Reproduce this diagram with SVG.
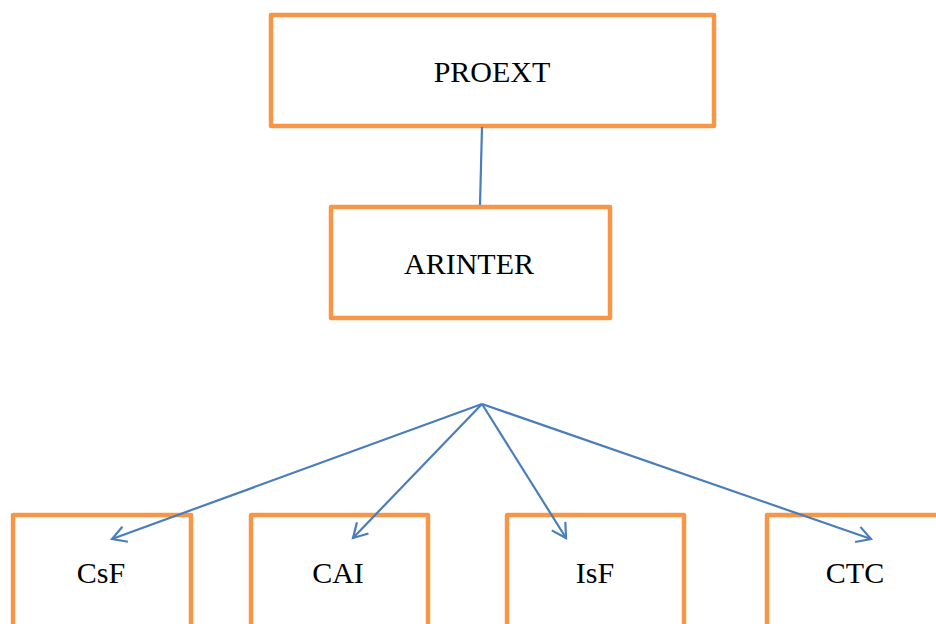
<svg xmlns="http://www.w3.org/2000/svg" width="936" height="624" viewBox="0 0 936 624">
<style>
.box{fill:#fff;stroke:#f79646;stroke-width:4.5;stroke-linejoin:round}
.lbl{font-family:"Liberation Serif","DejaVu Serif",serif;font-size:30px;fill:#000;text-anchor:middle}
.con{stroke:#4a7ebb;stroke-width:2.2;fill:none}
</style>
<defs>
<marker id="arr" markerWidth="18" markerHeight="18" refX="15" refY="9" orient="auto" markerUnits="userSpaceOnUse" viewBox="0 0 18 18">
<path d="M1,1 L15,9 L1,17" fill="none" stroke="#4a7ebb" stroke-width="2.2"/>
</marker>
</defs>
<rect width="936" height="624" fill="#fff"/>
<g id="PROEXT"><rect class="box" x="271" y="15" width="443" height="111"/><text class="lbl" x="492" y="82">PROEXT</text></g>
<g id="ARINTER"><rect class="box" x="331" y="207" width="279" height="111"/><text class="lbl" x="469" y="274">ARINTER</text></g>
<g id="CsF"><rect class="box" x="13" y="515" width="178" height="130"/><text class="lbl" x="101" y="583">CsF</text></g>
<g id="CAI"><rect class="box" x="251" y="515" width="177" height="130"/><text class="lbl" x="338" y="583">CAI</text></g>
<g id="IsF"><rect class="box" x="507" y="515" width="177" height="130"/><text class="lbl" x="595" y="583">IsF</text></g>
<g id="CTC"><rect class="box" x="767" y="515" width="190" height="130"/><text class="lbl" x="855" y="583">CTC</text></g>
<g id="connectors">
<line class="con" x1="482" y1="127" x2="480" y2="205"/>
<line class="con" x1="482" y1="404" x2="112" y2="539" marker-end="url(#arr)"/>
<line class="con" x1="482" y1="404" x2="353" y2="538" marker-end="url(#arr)"/>
<line class="con" x1="482" y1="404" x2="566" y2="538" marker-end="url(#arr)"/>
<line class="con" x1="482" y1="404" x2="871" y2="539" marker-end="url(#arr)"/>
</g>
</svg>
